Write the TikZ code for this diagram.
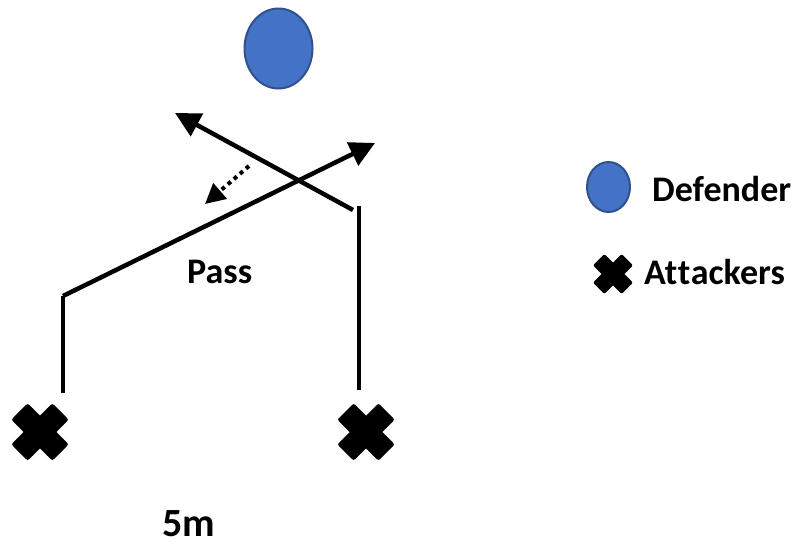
\documentclass[tikz,border=0pt]{standalone}
\usepackage{fontspec}
\setmainfont{Carlito}[Ligatures=NoCommon]
\usetikzlibrary{arrows.meta,shapes.geometric}

\definecolor{defblue}{HTML}{4472C4}
\definecolor{defedge}{HTML}{2F528F}

\tikzset{
  defender/.style={ellipse, fill=defblue, draw=defedge, line width=2pt, inner sep=0pt},
  run/.style={line width=4.5pt, draw=black},
  runarrow/.style={run, -{Triangle[length=25pt,width=25pt]}},
  dotarrow/.style={line width=4pt, dash pattern=on 4pt off 4pt,
    -{Triangle[length=20pt,width=20pt]}},
  label/.style={font=\bfseries\fontsize{36}{40}\selectfont, inner sep=0pt},
  attacker/.pic={
    \fill[rotate=45, rounded corners=2pt] (-29,-11.5) rectangle (29,11.5);
    \fill[rotate=-45, rounded corners=2pt] (-29,-11.5) rectangle (29,11.5);
  }
}

\begin{document}
\begin{tikzpicture}[x=1pt, y=-1pt]
  \useasboundingbox (0,0) rectangle (799,546);

  % defender at the top
  \node[defender, minimum width=68pt, minimum height=80pt] (def) at (278.5,48.5) {};

  % attackers
  \pic at (40,432) {attacker};
  \pic at (366,432) {attacker};

  % runs of the two attackers
  \coordinate (lstart) at (63,393);
  \coordinate (lcorner) at (63,296);
  \coordinate (lend) at (375,143);
  \coordinate (rstart) at (359,390);
  \coordinate (rcorner) at (359,206);
  \coordinate (rdiag) at (353,210);
  \coordinate (rend) at (175,113);

  \draw[run] (lstart) -- (lcorner);
  \draw[runarrow] (lcorner) -- (lend);
  \draw[run] (rstart) -- (rcorner);
  \draw[runarrow] (rdiag) -- (rend);

  % pass
  \coordinate (pstart) at (249,166);
  \coordinate (pend) at (205,204);
  \draw[dotarrow] (pstart) -- (pend);

  \node[label, anchor=base west] (pass) at (187,283) {Pass};
  \node[label, anchor=base west, text depth=0pt, font=\bfseries\fontsize{40}{44}\selectfont] (dist) at (162,536) {5m};

  % legend
  \node[defender, minimum width=43pt, minimum height=50pt] (legdef) at (608.5,187) {};
  \node[label, anchor=base west] (legdeftext) at (652,201) {Defender};
  \pic[scale=0.7] at (613,274) {attacker};
  \node[label, anchor=base west] (legatttext) at (644,284) {At\kern0.5pt t\kern0.5pt ackers};
\end{tikzpicture}
\end{document}
